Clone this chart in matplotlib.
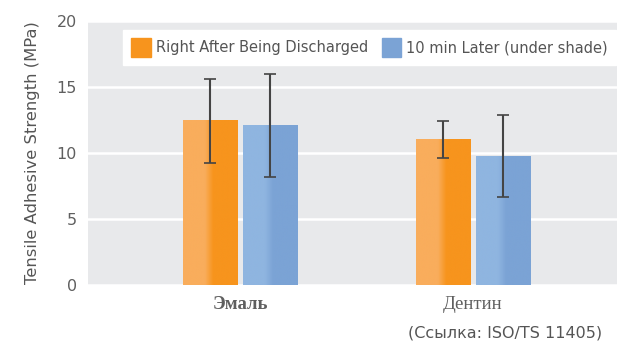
import numpy as np
import matplotlib.pyplot as plt
from matplotlib.patches import Patch

groups = ['Эмаль', 'Дентин']
series = ['Right After Being Discharged', '10 min Later (under shade)']
means = {
    series[0]: [12.5, 11.05],
    series[1]: [12.1, 9.75],
}
err_low = {
    series[0]: [9.25, 9.65],
    series[1]: [8.15, 6.65],
}
err_high = {
    series[0]: [15.6, 12.4],
    series[1]: [15.95, 12.9],
}
yticks = [0, 5, 10, 15, 20]
note = '(Ссылка: ISO/TS 11405)'

light = ['#F9AD5C', '#8FB5E0']
dark = ['#F7941D', '#7BA3D5']

fig = plt.figure(figsize=(6.17, 3.45), dpi=100)
ax = fig.add_axes([88 / 617, 1 - 285 / 345, 529 / 617, 264 / 345])
ax.set_facecolor('#E8E9EB')

x = np.arange(len(groups))
w = 0.232
step = 0.2575
for i, s in enumerate(series):
    pos = x + (i - 0.5) * step
    vals = np.array(means[s])
    bars = ax.bar(pos, vals, width=w, color=dark[i], zorder=2, linewidth=0)
    # horizontal gradient inside each bar: lighter on the left
    cmap = plt.matplotlib.colors.LinearSegmentedColormap.from_list(
        'g%d' % i, [(0, light[i]), (0.4, light[i]), (0.55, dark[i]), (1, dark[i])])
    grad = np.linspace(0, 1, 256).reshape(1, -1)
    for b in bars:
        im = ax.imshow(grad, cmap=cmap, aspect='auto', zorder=2.5,
                       extent=[b.get_x(), b.get_x() + b.get_width(), 0, b.get_height()])
        im.set_clip_path(b)
    lo = vals - np.array(err_low[s])
    hi = np.array(err_high[s]) - vals
    ax.errorbar(pos, vals, yerr=[lo, hi], fmt='none', ecolor='#444444',
                elinewidth=1.5, capsize=4, capthick=1.2, zorder=3)

ax.set_xlim(-0.652, 1.618)
ax.set_ylim(0, 20)
ax.set_yticks(yticks)
ax.yaxis.grid(True, color='white', linewidth=1.8, zorder=1)
ax.set_axisbelow(True)
for sp in ax.spines.values():
    sp.set_visible(False)
ax.tick_params(axis='both', length=0, colors='#5f5f5f', labelsize=11.5, pad=8)
ax.set_xticks(x)
ax.set_xticklabels(groups, family='Liberation Serif', fontsize=13.5)
ax.get_xticklabels()[0].set_fontweight('bold')
ax.tick_params(axis='x', pad=8)
ax.set_ylabel('Tensile Adhesive Strength (MPa)', color='#555555', fontsize=11.8, labelpad=12)

handles = [Patch(color=dark[i], label=s) for i, s in enumerate(series)]
leg = ax.legend(handles=handles, ncol=2, loc='upper right', bbox_to_anchor=(0.998, 0.966),
                frameon=True, fancybox=False, edgecolor='white', facecolor='white',
                fontsize=10.5, handlelength=1.35, handleheight=1.6, handletextpad=0.35,
                columnspacing=0.9, borderpad=0.55, borderaxespad=0, framealpha=1)
for t in leg.get_texts():
    t.set_color('#555555')

fig.text(602 / 617, 1 - 333 / 345, note, ha='right', va='center',
         color='#555555', fontsize=11.5)

fig.savefig('out.png', dpi=100)
